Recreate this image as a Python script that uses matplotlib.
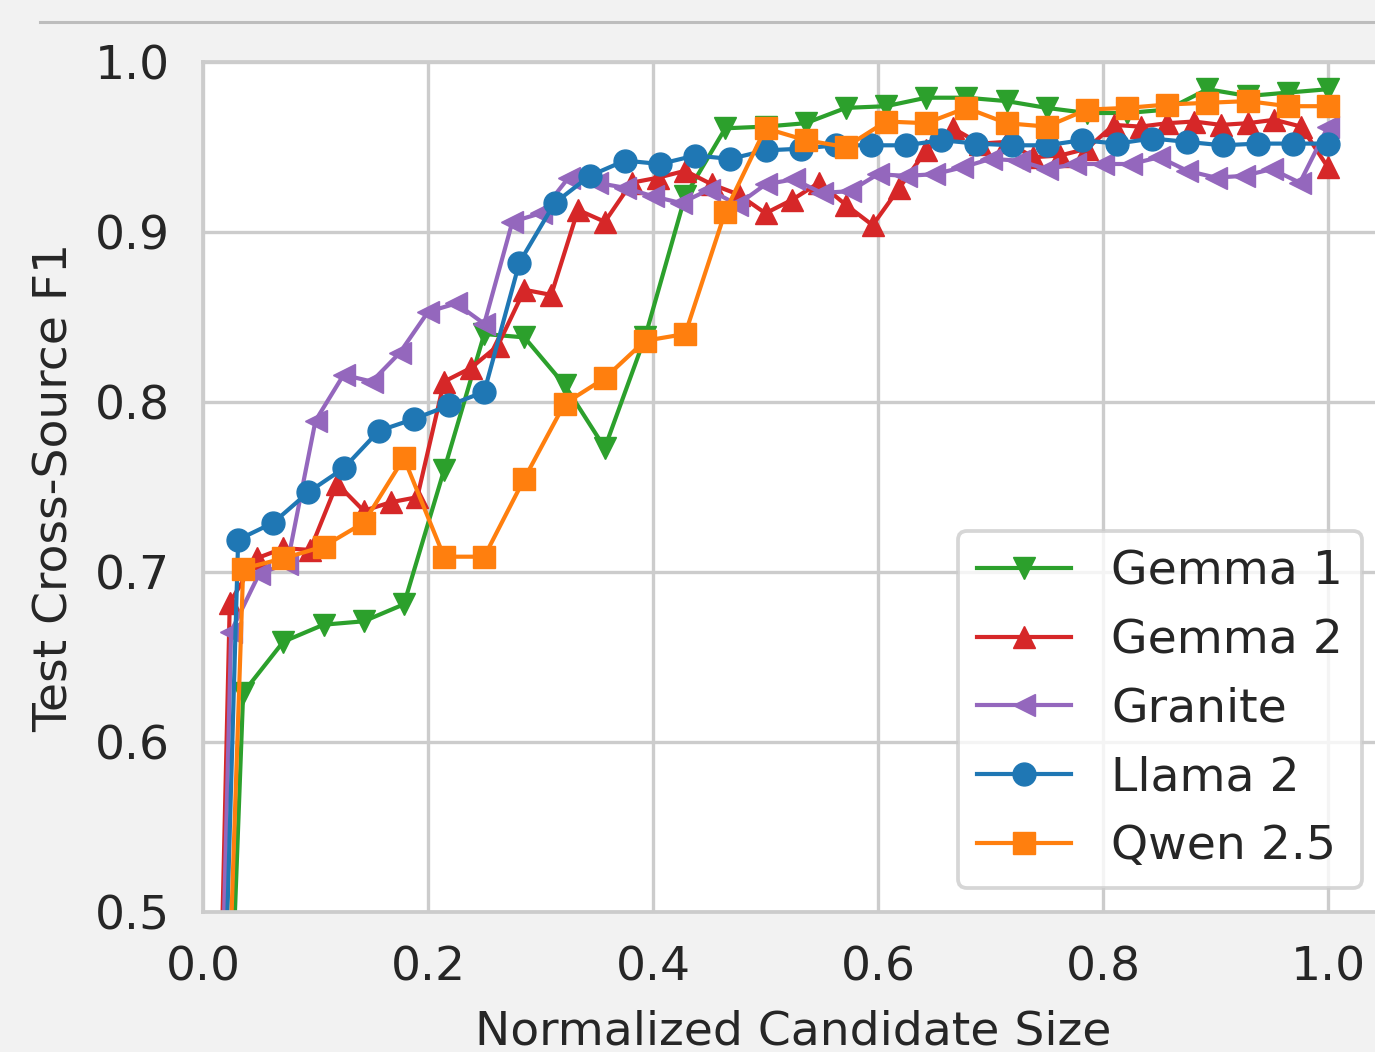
import numpy as np
import matplotlib.pyplot as plt
from matplotlib.lines import Line2D

# F1 values per model, one per candidate-size step (step 0 is F1 = 0 at size 0)
gemma1_f1 = [0.0, 0.629, 0.659, 0.669, 0.671, 0.681, 0.760, 0.840, 0.838, 0.810, 0.773,
             0.838, 0.921, 0.961, 0.962, 0.964, 0.973, 0.974, 0.979, 0.979, 0.977,
             0.973, 0.970, 0.970, 0.972, 0.984, 0.980, 0.982, 0.984]
gemma2_f1 = [0.0, 0.682, 0.708, 0.714, 0.713, 0.752, 0.736, 0.741, 0.744, 0.812, 0.820,
             0.833, 0.866, 0.863, 0.913, 0.906, 0.929, 0.932, 0.936, 0.928, 0.922,
             0.911, 0.919, 0.929, 0.916, 0.904, 0.926, 0.948, 0.961, 0.952, 0.953,
             0.944, 0.945, 0.949, 0.963, 0.962, 0.964, 0.965, 0.963, 0.964, 0.966,
             0.962, 0.938]
granite_f1 = [0.0, 0.665, 0.699, 0.705, 0.789, 0.816, 0.812, 0.829, 0.853, 0.858, 0.846,
              0.906, 0.911, 0.932, 0.929, 0.926, 0.921, 0.917, 0.925, 0.916, 0.928,
              0.931, 0.923, 0.924, 0.934, 0.933, 0.934, 0.938, 0.943, 0.942, 0.937,
              0.940, 0.940, 0.940, 0.944, 0.936, 0.932, 0.933, 0.937, 0.929, 0.962]
llama2_f1 = [0.0, 0.719, 0.729, 0.747, 0.761, 0.783, 0.790, 0.798, 0.806, 0.882, 0.917,
             0.933, 0.942, 0.940, 0.945, 0.943, 0.948, 0.949, 0.951, 0.951, 0.951,
             0.954, 0.952, 0.951, 0.951, 0.954, 0.952, 0.955, 0.953, 0.951, 0.952,
             0.952, 0.952]
qwen25_f1 = [0.0, 0.702, 0.708, 0.715, 0.729, 0.767, 0.709, 0.709, 0.755, 0.799, 0.814,
             0.836, 0.840, 0.912, 0.961, 0.954, 0.950, 0.965, 0.964, 0.973, 0.964,
             0.962, 0.972, 0.973, 0.975, 0.976, 0.977, 0.974, 0.974]

models = ["Gemma 1", "Gemma 2", "Granite", "Llama 2", "Qwen 2.5"]
series = [gemma1_f1, gemma2_f1, granite_f1, llama2_f1, qwen25_f1]
colors = ["#2ca02c", "#d62728", "#9467bd", "#1f77b4", "#ff7f0e"]
markers = ["v", "^", "<", "o", "s"]

text_color = "#262626"
grid_color = "#cccccc"
fs = 34

plt.rcParams["font.family"] = "DejaVu Sans"

fig = plt.figure(figsize=(13.75, 10.52), dpi=100, facecolor="#f2f2f2")
W, H = 1375, 1052
ax = fig.add_axes([203 / W, 140 / H, 1.05 * 1125 / W, 850 / H])
ax.set_facecolor("white")

for name, vals, c, m in zip(models, series, colors, markers):
    x = np.linspace(0, 1, len(vals))
    ax.plot(x, vals, color=c, marker=m, markersize=16.5, linewidth=3, label=name)

ax.set_xlim(0, 1.05)
ax.set_ylim(0.5, 1.0)
ax.set_xticks([0.0, 0.2, 0.4, 0.6, 0.8, 1.0])
ax.set_yticks([0.5, 0.6, 0.7, 0.8, 0.9, 1.0])
ax.grid(True, color=grid_color, linewidth=2.4)
ax.set_axisbelow(True)
for s in ax.spines.values():
    s.set_color(grid_color)
    s.set_linewidth(2.7)
ax.tick_params(length=0, pad=24, labelsize=fs, labelcolor=text_color)

ax.set_xlabel("Normalized Candidate Size", fontsize=fs, color=text_color, labelpad=14)
ax.set_ylabel("Test Cross-Source F1", fontsize=fs, color=text_color, labelpad=12)

leg = ax.legend(loc="lower right", bbox_to_anchor=(1362 / W, 164 / H),
                bbox_transform=fig.transFigure, fontsize=fs, frameon=True,
                fancybox=True, framealpha=0.8, edgecolor=grid_color,
                borderaxespad=0, handletextpad=0.85)
leg.get_frame().set_linewidth(2.7)
for t in leg.get_texts():
    t.set_color(text_color)

# thin rule across the top of the figure
fig.add_artist(Line2D([40 / W, 1.0], [1 - 22 / H, 1 - 22 / H],
                      transform=fig.transFigure, color="#bdbdbd", linewidth=2.2))

fig.savefig("out.png", dpi=100, facecolor=fig.get_facecolor())
